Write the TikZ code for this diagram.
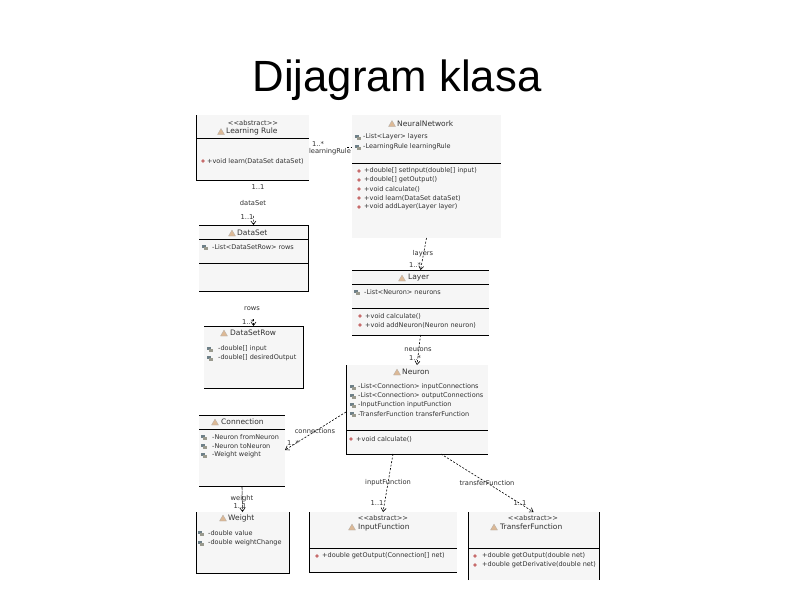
\documentclass[tikz,border=0pt]{standalone}
\usepackage{fontspec}
\setmainfont{Liberation Sans}
\newfontfamily\umlfont{DejaVu Sans}
\usetikzlibrary{arrows.meta}
\definecolor{boxfill}{HTML}{F6F6F6}
\definecolor{txtc}{HTML}{303030}
\definecolor{fieldA}{HTML}{6E8088}
\definecolor{fieldB}{HTML}{9A9A8E}
\tikzset{
  box/.style={fill=boxfill,draw=none,anchor=north west,inner sep=0pt,outer sep=0pt},
  edge/.style={black,line width=1pt},
  assoc/.style={black,line width=.6pt,dash pattern=on 2pt off 1.6pt,-{Straight Barb[length=3.5pt,width=5pt]}},
  lbl/.style={font=\umlfont\fontsize{6.5}{7}\selectfont,text=txtc,anchor=west,inner sep=0pt},
  hdr/.style={font=\umlfont\fontsize{7.5}{8}\selectfont,text=txtc,anchor=west,inner sep=0pt},
  cen/.style={font=\umlfont\fontsize{6.7}{7}\selectfont,text=txtc,anchor=center,inner sep=0pt},
}
\newcommand{\classicon}[2]{\fill[fill=brown!55!white,draw=gray!70,line width=.2pt] (#1-3.5,#2+3)--(#1,#2-3)--(#1+3.5,#2+3)--cycle;}
\newcommand{\fieldicon}[2]{\fill[fieldA] (#1-3,#2-2.5) rectangle (#1+1,#2+.5);\fill[fieldB] (#1-1,#2) rectangle (#1+3,#2+2.5);}
\newcommand{\methicon}[2]{\fill[red!45!gray!80] (#1,#2) circle (1.9);}
\begin{document}
\begin{tikzpicture}[x=1pt,y=-1pt]
\useasboundingbox[fill=white] (0,0) rectangle (794,595);
\node[font=\fontsize{43.7}{48}\selectfont,anchor=base,inner sep=0pt] (title) at (397,91) {Dijagram klasa};

% boxes
\node[box,minimum width=113pt,minimum height=65pt] (lr) at (196,115) {};
\node[box,minimum width=149pt,minimum height=123pt] (nn) at (352,115) {};
\node[box,minimum width=109pt,minimum height=66pt] (ds) at (199,225) {};
\node[box,minimum width=99pt,minimum height=62pt] (dsr) at (204,326) {};
\node[box,minimum width=137pt,minimum height=65pt] (layer) at (352,270) {};
\node[box,minimum width=142pt,minimum height=89pt] (neuron) at (346,365) {};
\node[box,minimum width=86pt,minimum height=71pt] (conn) at (199,415) {};
\node[box,minimum width=93pt,minimum height=61pt] (weight) at (196,512) {};
\node[box,minimum width=148pt,minimum height=60pt] (inf) at (309,512) {};
\node[box,minimum width=131pt,minimum height=68pt] (trf) at (468,512) {};

% borders
\draw[edge] (lr.north west)--(lr.south west)--(lr.south east);
\draw[edge] (lr.west |- 0,138)--(lr.east |- 0,138);
\draw[edge] (nn.west |- 0,163)--(nn.east |- 0,163);
\draw[edge] (ds.north west)--(ds.north east)--(ds.south east)--(ds.south west);
\draw[edge] (ds.west |- 0,239)--(ds.east |- 0,239);
\draw[edge] (ds.west |- 0,263)--(ds.east |- 0,263);
\draw[edge] (dsr.north west)--(dsr.north east)--(dsr.south east)--(dsr.south west);
\draw[edge] (layer.north west)--(layer.north east);
\draw[edge] (layer.west |- 0,284)--(layer.east |- 0,284);
\draw[edge] (layer.west |- 0,308)--(layer.east |- 0,308);
\draw[edge] (layer.south west)--(layer.south east);
\draw[edge] (neuron.north west)--(neuron.south west)--(neuron.south east);
\draw[edge] (neuron.west |- 0,430)--(neuron.east |- 0,430);
\draw[edge] (conn.north west)--(conn.north east);
\draw[edge] (conn.west |- 0,429)--(conn.east |- 0,429);
\draw[edge] (conn.south west)--(conn.south east);
\draw[edge] (weight.north west)--(weight.south west)--(weight.south east)--(weight.north east);
\draw[edge] (inf.north west)--(inf.south west)--(inf.south east);
\draw[edge] (inf.west |- 0,548)--(inf.east |- 0,548);
\draw[edge] (trf.south west)--(trf.north west);
\draw[edge] (trf.north east)--(trf.south east);
\draw[edge] (trf.west |- 0,548)--(trf.east |- 0,548);

% connectors
\draw[assoc,shorten <=36pt] (lr.south)--(ds.north);
\draw[assoc,shorten <=28pt] (ds.south)--(dsr.north);
\draw[assoc] (nn.south)--(layer.north);
\draw[assoc] (layer.south)--(neuron.north);
\draw[assoc] (neuron.west |- 0,412)--(conn.east |- 0,450);
\draw[assoc,dash pattern=on 4pt off .8pt] (conn.south)--(weight.north);
\draw[assoc] (neuron.south west)++(47,0)--(inf.north);
\draw[assoc] (neuron.south west)++(95,0)--(trf.north);
\draw[black,line width=.5pt,dash pattern=on 2pt off 1.6pt,shorten <=38pt] (lr.east)--(nn.west |- lr.east);

% text: Learning rule
\node[cen] (t1) at (253,122.5) {<{}<abstract>{}>};
\classicon{221}{131.5}\node[hdr] (t2) at (226,131.5) {Learning Rule};
\methicon{203}{161}\node[lbl] (t3) at (207,161) {+void learn(DataSet dataSet)};
% NeuralNetwork
\classicon{392}{123.5}\node[hdr] (t4) at (397,123.5) {NeuralNetwork};
\fieldicon{358}{137}\node[lbl] (t5) at (363,137) {-List<Layer> layers};
\fieldicon{358}{147}\node[lbl] (t6) at (363,147) {-LearningRule learningRule};
\methicon{359}{171}\node[lbl] (t7) at (364,171) {+double[] setInput(double[] input)};
\methicon{359}{180}\node[lbl] (t8) at (364,180) {+double[] getOutput()};
\methicon{359}{189}\node[lbl] (t9) at (364,189) {+void calculate()};
\methicon{359}{198}\node[lbl] (t10) at (364,198) {+void learn(DataSet dataSet)};
\methicon{359}{207}\node[lbl] (t11) at (364,207) {+void addLayer(Layer layer)};
% DataSet
\classicon{232}{233}\node[hdr] (t12) at (237,233) {DataSet};
\fieldicon{205}{247}\node[lbl] (t13) at (212,247) {-List<DataSetRow> rows};
% DataSetRow
\classicon{224}{333}\node[hdr] (t14) at (230,333) {DataSetRow};
\fieldicon{210}{349}\node[lbl] (t15) at (218,349) {-double[] input};
\fieldicon{210}{358}\node[lbl] (t16) at (218,358) {-double[] desiredOutput};
% Layer
\classicon{402}{278}\node[hdr] (t17) at (408,278) {Layer};
\fieldicon{357}{292}\node[lbl] (t18) at (364,292) {-List<Neuron> neurons};
\methicon{360}{316}\node[lbl] (t19) at (365,316) {+void calculate()};
\methicon{360}{325}\node[lbl] (t20) at (365,325) {+void addNeuron(Neuron neuron)};
% Neuron
\classicon{397}{372}\node[hdr] (t21) at (402,372) {Neuron};
\fieldicon{353}{387}\node[lbl] (t22) at (358,387) {-List<Connection> inputConnections};
\fieldicon{353}{396}\node[lbl] (t23) at (358,396) {-List<Connection> outputConnections};
\fieldicon{353}{405}\node[lbl] (t24) at (358,405) {-InputFunction inputFunction};
\fieldicon{353}{414}\node[lbl] (t25) at (358,414) {-TransferFunction transferFunction};
\methicon{351}{439}\node[lbl] (t26) at (356,439) {+void calculate()};
% Connection
\classicon{215}{422}\node[hdr] (t27) at (221,422) {Connection};
\fieldicon{204}{437}\node[lbl] (t28) at (212,437) {-Neuron fromNeuron};
\fieldicon{204}{446}\node[lbl] (t29) at (212,446) {-Neuron toNeuron};
\fieldicon{204}{455}\node[lbl] (t30) at (212,455) {-Weight weight};
% Weight
\classicon{223}{518}\node[hdr] (t31) at (228,518) {Weight};
\fieldicon{201}{533}\node[lbl] (t32) at (208,533) {-double value};
\fieldicon{201}{543}\node[lbl] (t33) at (208,543) {-double weightChange};
% InputFunction
\node[cen] (t34) at (383,518) {<{}<abstract>{}>};
\classicon{352}{527}\node[hdr] (t35) at (358,527) {InputFunction};
\methicon{317}{556}\node[lbl] (t36) at (322,556) {+double getOutput(Connection[] net)};
% TransferFunction
\node[cen] (t37) at (533,518) {<{}<abstract>{}>};
\classicon{494}{527}\node[hdr] (t38) at (500,527) {TransferFunction};
\methicon{475}{556}\node[lbl] (t39) at (482,556) {+double getOutput(double net)};
\methicon{475}{565}\node[lbl] (t40) at (482,565) {+double getDerivative(double net)};

% connector labels
\node[cen] (c1) at (318,144) {1..*};
\node[cen] (c2) at (330,152) {learningRule};
\node[cen] (c3) at (258,187) {1..1};
\node[cen] (c4) at (253,203) {dataSet};
\node[cen] (c5) at (247,217) {1..1};
\node[cen] (c6) at (252,309) {rows};
\node[cen] (c7) at (248,322) {1..*};
\node[cen] (c8) at (423,254) {layers};
\node[cen] (c9) at (415,265) {1..*};
\node[cen] (c10) at (418,350) {neurons};
\node[cen] (c11) at (415,358) {1..*};
\node[cen] (c12) at (315,431) {connections};
\node[cen] (c13) at (293,443) {1..*};
\node[cen] (c14) at (242,499) {weight};
\node[cen] (c15) at (240,506) {1..1};
\node[cen] (c16) at (388,483) {inputFunction};
\node[cen] (c17) at (377,503) {1..1};
\node[cen] (c18) at (487,483) {transferFunction};
\node[cen] (c19) at (520,503) {1..1};
\end{tikzpicture}
\end{document}
